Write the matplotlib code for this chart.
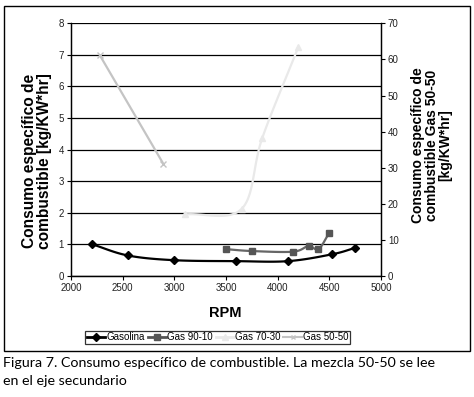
import numpy as np
import matplotlib
matplotlib.use("Agg")
import matplotlib.pyplot as plt
from matplotlib.lines import Line2D
from matplotlib.patches import Rectangle

plt.rcParams['font.family'] = ['Liberation Sans', 'DejaVu Sans']

# Data
rpm_gasolina = [2200, 2550, 3000, 3600, 4100, 4530, 4750]
val_gasolina = [1.01, 0.65, 0.50, 0.47, 0.47, 0.69, 0.89]

rpm_90_10 = [3500, 3750, 4150, 4300, 4395, 4500]
val_90_10 = [0.85, 0.79, 0.77, 0.95, 0.85, 1.37]

rpm_70_30 = [3100, 3650, 3850, 4200]
val_70_30 = [1.95, 2.12, 4.36, 7.25]

rpm_50_50 = [2280, 2895]
val_50_50 = [61.1, 31.0]

labels = ['Gasolina', 'Gas 90-10', 'Gas 70-30', 'Gas 50-50']
x_ticks = [2000, 2500, 3000, 3500, 4000, 4500, 5000]
y1_ticks = [0, 1, 2, 3, 4, 5, 6, 7, 8]
y2_ticks = [0, 10, 20, 30, 40, 50, 60, 70]


def smooth(x, y, n=20):
    x = np.asarray(x, float)
    y = np.asarray(y, float)
    if len(x) < 3:
        return x, y
    px = np.concatenate([[2 * x[0] - x[1]], x, [2 * x[-1] - x[-2]]])
    py = np.concatenate([[2 * y[0] - y[1]], y, [2 * y[-1] - y[-2]]])
    xs, ys = [], []
    for i in range(1, len(px) - 2):
        t = np.linspace(0, 1, n, endpoint=(i == len(px) - 3))
        for arr, out in ((px, xs), (py, ys)):
            p0, p1, p2, p3 = arr[i - 1], arr[i], arr[i + 1], arr[i + 2]
            c1 = p1 + (p2 - p0) / 6
            c2 = p2 - (p3 - p1) / 6
            out.extend((1 - t) ** 3 * p1 + 3 * (1 - t) ** 2 * t * c1
                       + 3 * (1 - t) * t ** 2 * c2 + t ** 3 * p2)
    return np.array(xs), np.array(ys)


fig = plt.figure(figsize=(4.74, 3.97), dpi=100)
ax = fig.add_axes([0.1498, 0.3048, 0.6540, 0.6365])
ax2 = ax.twinx()

c_gas = 'black'
c_90 = '#555555'
c_70 = '#e9e9e9'
c_50 = '#c4c4c4'

# Gas 70-30 (left axis)
sx, sy = smooth(rpm_70_30, val_70_30)
ax.plot(sx, sy, color=c_70, lw=1.6, zorder=3)
ax.plot(rpm_70_30, val_70_30, ls='none', marker='^', ms=4, color=c_70, zorder=3)

# Gas 90-10
sx, sy = smooth(rpm_90_10, val_90_10)
ax.plot(sx, sy, color='#666666', lw=1.6, zorder=4)
ax.plot(rpm_90_10, val_90_10, ls='none', marker='s', ms=5, color=c_90, zorder=4)

# Gasolina
sx, sy = smooth(rpm_gasolina, val_gasolina)
ax.plot(sx, sy, color=c_gas, lw=1.6, zorder=5)
ax.plot(rpm_gasolina, val_gasolina, ls='none', marker='D', ms=4, color=c_gas, zorder=5)

# Gas 50-50 (right axis)
ax2.plot(rpm_50_50, val_50_50, color=c_50, lw=1.6, marker='x', ms=4, mew=1)

ax.set_xlim(2000, 5000)
ax.set_ylim(0, 8)
ax2.set_ylim(0, 70)
ax.set_xticks(x_ticks)
ax.set_yticks(y1_ticks)
ax2.set_yticks(y2_ticks)
ax.tick_params(labelsize=7, length=3, width=0.8, pad=2, colors='black')
ax2.tick_params(labelsize=7, length=3, width=0.8, pad=2, colors='black')
for t in ax.get_xticklabels() + ax.get_yticklabels() + ax2.get_yticklabels():
    t.set_color('#222222')

ax.grid(axis='y', color='black', lw=0.9)
ax.set_axisbelow(True)
for a in (ax, ax2):
    a.spines['top'].set_visible(False)
    for s in ('left', 'bottom', 'right'):
        a.spines[s].set_linewidth(0.9)

ax.set_xlabel('RPM', fontsize=10.5, fontweight='bold')
ax.xaxis.set_label_coords(0.497, -0.146)
ax.xaxis.label.set_va('center')

ax.set_ylabel('Consumo específico de\ncombustible [kg/KW*hr]', fontsize=11.2,
              fontweight='bold', linespacing=1.05)
ax.yaxis.set_label_coords(-0.1097, 0.4545)
ax.yaxis.label.set_va('center')

ax2.set_ylabel('Consumo específico de\ncombustible Gas 50-50\n[kg/KW*hr]',
               fontsize=10, fontweight='bold', linespacing=1.0, rotation=90)
ax2.yaxis.set_label_coords(1.1635, 0.518)
ax2.yaxis.label.set_va('center')

handles = [
    Line2D([], [], color=c_gas, lw=2, marker='D', ms=4),
    Line2D([], [], color=c_90, lw=2, marker='s', ms=5),
    Line2D([], [], color=c_70, lw=2, marker='^', ms=4),
    Line2D([], [], color=c_50, lw=1.5, marker='x', ms=3),
]
leg = fig.legend(handles, labels, loc='center', bbox_to_anchor=(0.459, 0.151),
                 ncol=4, fontsize=7, frameon=True, fancybox=False,
                 handlelength=1.9, handletextpad=0.1, columnspacing=0.3,
                 borderpad=0.15, borderaxespad=0)
leg.get_frame().set_edgecolor('black')
leg.get_frame().set_linewidth(0.9)

fig.patches.append(Rectangle((4 / 474, 1 - 351 / 397), 466 / 474, 345 / 397,
                             transform=fig.transFigure, fill=False,
                             edgecolor='black', lw=1.0))

fig.text(3 / 474, 1 - 363 / 397,
         'Figura 7. Consumo específico de combustible. La mezcla 50-50 se lee',
         fontsize=10.3, family=['Lato', 'DejaVu Sans'], va='center', ha='left')
fig.text(3 / 474, 1 - 381 / 397, 'en el eje secundario',
         fontsize=10.3, family=['Lato', 'DejaVu Sans'], va='center', ha='left')

fig.savefig('out.png', dpi=100)
